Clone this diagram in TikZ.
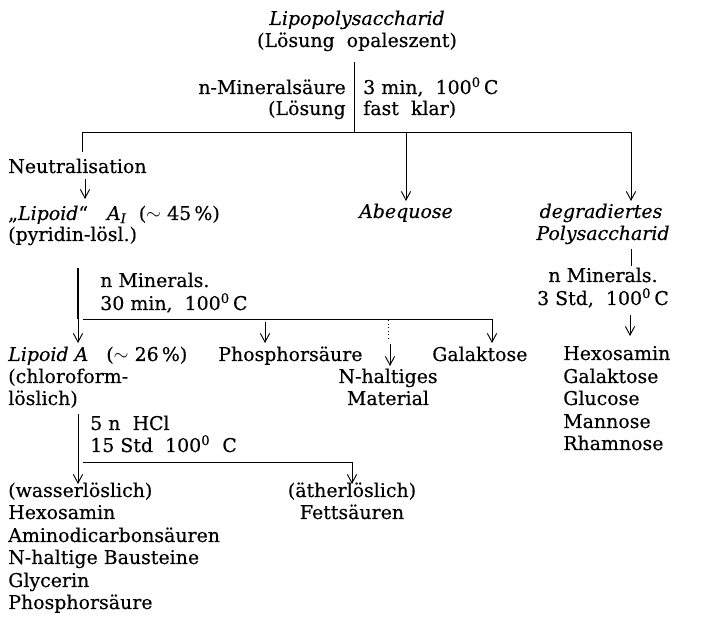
\documentclass[tikz,border=0pt]{standalone}
\usepackage{fontspec}
\setmainfont{DejaVu Serif}[FakeBold=0.35]
\usetikzlibrary{arrows.meta}
\begin{document}
\begin{tikzpicture}[x=0.75pt,y=-0.75pt,
  txt/.style={inner sep=0pt, font=\fontsize{14.2}{16}\selectfont},
  lw/.style={txt, anchor=base west},
  le/.style={txt, anchor=base east},
  lc/.style={txt, anchor=base},
  ln/.style={line width=0.7pt},
  thk/.style={line width=1.3pt},
  arr/.style={ln, -{Straight Barb[length=6.5pt,width=7pt]}}]
\useasboundingbox (0,0) rectangle (704,623);
% top
\node[lc] (lps) at (357,25) {\textit{Lipopolysaccharid}};
\node[lc] (lps2) at (357,47) {(Lösung\ \ opaleszent)};
\coordinate (t1) at (354,62);
\coordinate (t2) at (354,132);
\draw[ln] (t1) -- (t2);
\node[le] (c1a) at (346,94) {n-Mineralsäure};
\node[le] (c1b) at (346,115) {(Lösung};
\node[lw] (c2a) at (363,94) {3 min,\ \ 100\textsuperscript{0}\,C};
\node[lw] (c2b) at (363,115) {fast\ \ klar)};
% main branch line
\coordinate (hl) at (82,132);
\coordinate (hm) at (406,132);
\coordinate (hr) at (631,132);
\coordinate (hl2) at (82,152);
\draw[ln] (hl2) -- (hl) -- (hr);
\coordinate (abT) at (406,201);
\coordinate (dgT) at (631,201);
\draw[arr] (hm) -- (abT);
\draw[arr] (hr) -- (dgT);
\node[lw] (neu) at (8,173) {Neutralisation};
\coordinate (n1) at (85,179);
\coordinate (n2) at (85,199);
\draw[arr] (n1) -- (n2);
\node[lw] (la1) at (8,220) {,,\textit{Lipoid}``\quad\textit{A}\textsubscript{\textit{I}}\ \ ($\sim$\ 45\,\%)};
\node[lw] (la2) at (8,241) {(pyridin-lösl.)};
\node[lc] (abe) at (406,218) {\textit{Abequose}};
\node[lc] (dg1) at (601,218) {\textit{degradiertes}};
\node[lc] (dg2) at (603,240) {\textit{Polysaccharid}};
% right column
\coordinate (r1) at (631,249);
\coordinate (r2) at (631,266);
\draw[ln] (r1) -- (r2);
\node[lc] (rm1) at (603,282) {n Minerals.};
\node[lc] (rm2) at (603,305) {3 Std,\ \ 100\textsuperscript{0}\,C};
\coordinate (r3) at (630,315);
\coordinate (r4) at (630,336);
\draw[arr] (r3) -- (r4);
\node[lw] (rh1) at (563,360) {Hexosamin};
\node[lw] (rh2) at (563,383) {Galaktose};
\node[lw] (rh3) at (563,405) {Glucose};
\node[lw] (rh4) at (563,428) {Mannose};
\node[lw] (rh5) at (563,450) {Rhamnose};
% left middle
\coordinate (m1) at (78,268);
\coordinate (m2) at (78,319);
\coordinate (m3) at (78,343);
\draw[thk] (m1) -- (m2);
\draw[arr] (m2) -- (m3);
\coordinate (mh1) at (83,319);
\coordinate (mh2) at (492,319);
\draw[ln] (mh1) -- (mh2);
\node[lw] (mm1) at (100,287) {n Minerals.};
\node[lw] (mm2) at (100,310) {30 min,\ \ 100\textsuperscript{0}\,C};
\coordinate (p1) at (265,322);
\coordinate (p2) at (265,343);
\draw[arr] (p1) -- (p2);
\coordinate (g1) at (492,319);
\coordinate (g2) at (492,343);
\draw[arr] (g1) -- (g2);
\coordinate (d1) at (388,320);
\coordinate (d2) at (388,340);
\draw[ln, dotted] (d1) -- (d2);
\coordinate (d3) at (390,344);
\coordinate (d4) at (390,366);
\draw[arr] (d3) -- (d4);
\node[lw] (lA) at (8,361) {\textit{Lipoid A}\ \ \ ($\sim$\ 26\,\%)};
\node[lw] (lA2) at (8,383) {(chloroform-};
\node[lw] (lA3) at (8,405) {löslich)};
\node[lw] (ph) at (218,361) {Phosphorsäure};
\node[lc] (nh1) at (388,383) {N-haltiges};
\node[lc] (nh2) at (388,405) {Material};
\node[lw] (gal) at (432,361) {Galaktose};
% bottom
\coordinate (b1) at (78,414);
\coordinate (b2) at (78,462);
\coordinate (b3) at (78,484);
\draw[ln] (b1) -- (b2);
\draw[arr] (b2) -- (b3);
\coordinate (bh1) at (83,462);
\coordinate (bh2) at (352,462);
\coordinate (bh3) at (352,484);
\draw[ln] (bh1) -- (bh2);
\draw[arr] (bh2) -- (bh3);
\node[lw] (hc1) at (90,430) {5 n\ \ HCl};
\node[lw] (hc2) at (90,452) {15 Std\ \ 100\textsuperscript{0}\ \ C};
\node[lw] (w0) at (8,497) {(wasserlöslich)};
\node[lw] (w1) at (8,519) {Hexosamin};
\node[lw] (w2) at (8,542) {Aminodicarbonsäuren};
\node[lw] (w3) at (8,564) {N-haltige Bausteine};
\node[lw] (w4) at (8,587) {Glycerin};
\node[lw] (w5) at (8,609) {Phosphorsäure};
\node[lc] (ae1) at (352,497) {(ätherlöslich)};
\node[lc] (ae2) at (352,519) {Fettsäuren};
\end{tikzpicture}
\end{document}
